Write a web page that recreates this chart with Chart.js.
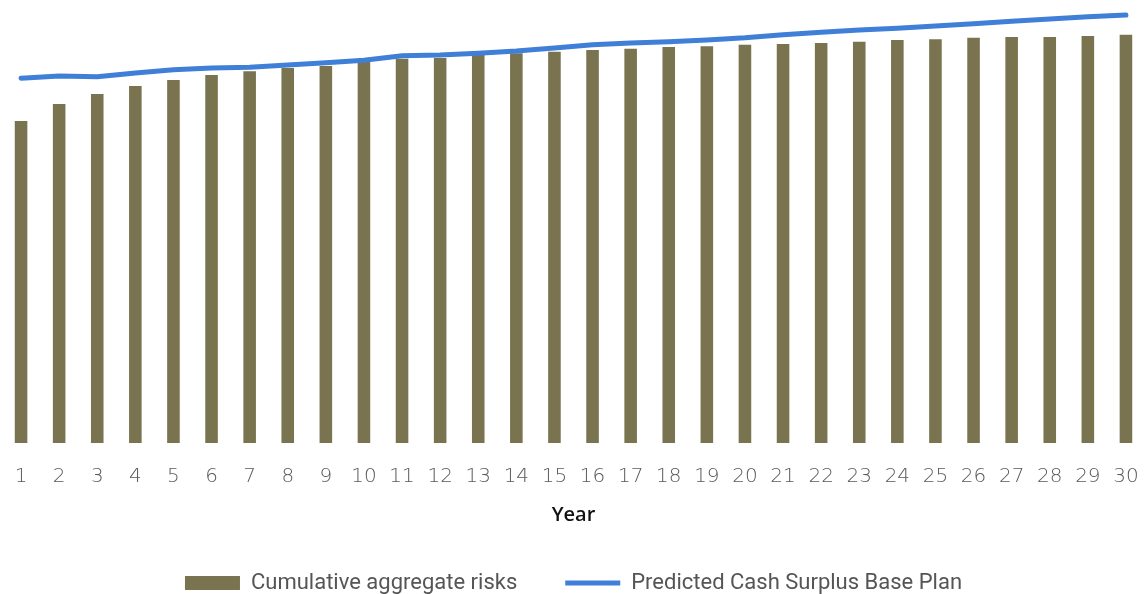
<!DOCTYPE html>
<html>
<head>
<meta charset="utf-8">
<script src="https://cdn.jsdelivr.net/npm/chart.js@4/dist/chart.umd.min.js"></script>
<style>
  html, body { margin: 0; padding: 0; background: #fff; }
  #wrap { width: 1145px; height: 594px; }
</style>
</head>
<body>
<div id="wrap"><canvas id="chart"></canvas></div>
<script>
const years = [];
for (let i = 1; i <= 30; i++) years.push(String(i));

// arbitrary units (axis is hidden)
const cumulativeRisks = [
  73.5, 77.4, 79.7, 81.5, 82.9, 84.0, 84.9, 85.6, 86.1, 87.0,
  87.7, 87.9, 88.6, 89.0, 89.3, 89.7, 90.0, 90.4, 90.6, 90.9,
  91.1, 91.3, 91.6, 92.0, 92.2, 92.5, 92.7, 92.7, 92.9, 93.2
];
const cashSurplus = [
  83.3, 83.8, 83.6, 84.5, 85.2, 85.6, 85.8, 86.3, 86.8, 87.4,
  88.4, 88.6, 89.0, 89.5, 90.2, 90.9, 91.3, 91.6, 92.0, 92.5,
  93.2, 93.8, 94.3, 94.7, 95.2, 95.7, 96.3, 96.8, 97.3, 97.7
];

const barColor = "#7a7350";
const lineColor = "#3f7fd8";

new Chart(document.getElementById("chart"), {
  type: "bar",
  data: {
    labels: years,
    datasets: [
      {
        type: "line",
        label: "Predicted Cash Surplus Base Plan",
        data: cashSurplus,
        borderColor: lineColor,
        backgroundColor: lineColor,
        borderWidth: 5,
        borderCapStyle: "round",
        pointRadius: 0,
        tension: 0,
        order: 0,
      },
      {
        label: "Cumulative aggregate risks",
        data: cumulativeRisks,
        backgroundColor: barColor,
        categoryPercentage: 1,
        barPercentage: 0.33,
        order: 1,
      },
    ],
  },
  options: {
    responsive: true,
    maintainAspectRatio: false,
    animation: false,
    layout: { padding: { top: 5, left: 2, right: 0, bottom: -10 } },
    plugins: {
      tooltip: { enabled: false },
      legend: {
        position: "bottom",
        reverse: true,
        labels: {
          usePointStyle: true,
          pointStyleWidth: 55,
          boxHeight: 14,
          padding: 48,
          color: "#555",
          font: { family: "'Roboto', sans-serif", size: 22 },
          generateLabels: (chart) => {
            return chart.data.datasets.map((ds, i) => ({
              text: ds.label,
              fillStyle: ds.backgroundColor,
              strokeStyle: ds.type === "line" ? ds.borderColor : ds.backgroundColor,
              lineWidth: ds.type === "line" ? 5 : 0,
              pointStyle: ds.type === "line" ? "line" : "rect",
              fontColor: "#555",
              datasetIndex: i,
              hidden: false,
            }));
          },
        },
      },
    },
    scales: {
      x: {
        grid: { display: false, drawTicks: true, tickLength: 22, tickColor: "rgba(0,0,0,0)" },
        border: { display: false },
        ticks: {
          padding: 0,
          color: "#595959",
          font: { family: "'DejaVu Sans', sans-serif", size: 20, weight: "300" },
          maxRotation: 0,
          autoSkip: false,
        },
        title: {
          display: true,
          text: "Year",
          color: "#111",
          padding: { top: 14, bottom: -3 },
          font: { family: "'Open Sans', sans-serif", size: 20, weight: "600" },
        },
      },
      y: {
        display: false,
        min: 0,
        max: 100,
      },
    },
  },
});
</script>
</body>
</html>
